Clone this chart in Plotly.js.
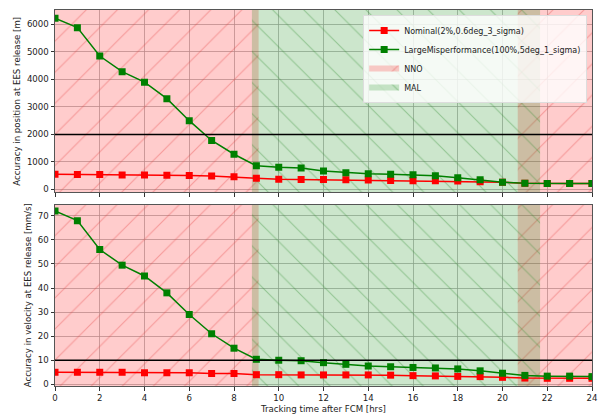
<!DOCTYPE html>
<html>
<head>
<meta charset="utf-8">
<script src="https://cdn.plot.ly/plotly-3.0.1.min.js"></script>
<style>html,body{margin:0;padding:0;background:#fff;}#chart{width:600px;height:414px;}</style>
</head>
<body>
<div id="chart"></div>
<script>
// ---- data ----
const hours = [0,1,2,3,4,5,6,7,8,9,10,11,12,13,14,15,16,17,18,19,20,21,22,23,24];
const posNominal = [550,545,545,530,525,520,505,485,460,410,375,365,360,350,340,330,318,315,305,285,265,230,215,215,215];
const posLarge   = [6220,5880,4850,4280,3900,3300,2500,1780,1280,860,805,780,670,610,570,555,535,500,430,355,265,230,215,215,215];
const velNominal = [5.0,5.0,5.0,5.0,4.8,4.8,4.8,4.5,4.5,4.0,4.0,3.9,3.9,3.9,3.9,3.8,3.6,3.5,3.3,3.2,2.9,2.6,2.5,2.5,2.5];
const velLarge   = [72,68,56,49.5,45,38,29,21,15,10.4,10,9.8,9.0,8.3,7.6,7.3,7.0,6.8,6.4,5.6,4.6,3.7,3.4,3.4,3.2];
const nnoIntervals = [[0, 9.1], [20.68, 24]];
const malIntervals = [[8.8, 21.68]];
const posThreshold = 2000;
const velThreshold = 10;
const seriesNames = ['Nominal(2%,0.6deg_3_sigma)', 'LargeMisperformance(100%,5deg_1_sigma)', 'NNO', 'MAL'];
const xTitle = 'Tracking time after FCM [hrs]';
const yTitlePos = 'Accuracy in position at EES release [m]';
const yTitleVel = 'Accuracy in velocity at EES release [mm/s]';
const posRange = [-109, 6521];
const velRange = [-0.7, 74.7];

// ---- build ----
const FONT = 'DejaVu Sans';
const FS = 8.6;
function regionTrace(intervals, yr, xa, ya, name, fill, line, shape, show, rank) {
  const x = [], y = [];
  intervals.forEach(([a, b], i) => {
    if (i > 0) { x.push(null); y.push(null); }
    x.push(a, b, b, a, a);
    y.push(yr[0], yr[0], yr[1], yr[1], yr[0]);
  });
  return {
    type: 'scatter', mode: 'none', x, y, xaxis: xa, yaxis: ya,
    fill: 'toself', fillcolor: fill, name, showlegend: show, legendrank: rank,
    fillpattern: {shape: shape, fgcolor: line, bgcolor: fill, size: 22, solidity: 0.05, fillmode: 'replace'},
    hoverinfo: 'skip'
  };
}
const NNO_FILL = 'rgba(255,0,0,0.2)', NNO_LINE = 'rgba(230,60,60,0.35)';
const MAL_FILL = 'rgba(0,128,0,0.2)', MAL_LINE = 'rgba(40,140,40,0.35)';

function seriesTrace(y, xa, ya, name, color, show, rank) {
  return {
    type: 'scatter', mode: 'lines+markers', x: hours, y, xaxis: xa, yaxis: ya,
    name, showlegend: show, legendrank: rank,
    line: {color, width: 1.5},
    marker: {symbol: 'square', size: 7, color}
  };
}

const traces = [
  regionTrace(nnoIntervals, posRange, 'x', 'y', seriesNames[2], NNO_FILL, NNO_LINE, '/', true, 3),
  regionTrace(malIntervals, posRange, 'x', 'y', seriesNames[3], MAL_FILL, MAL_LINE, '\\', true, 4),
  regionTrace(nnoIntervals, velRange, 'x2', 'y2', seriesNames[2], NNO_FILL, NNO_LINE, '/', false, 3),
  regionTrace(malIntervals, velRange, 'x2', 'y2', seriesNames[3], MAL_FILL, MAL_LINE, '\\', false, 4),
  seriesTrace(posNominal, 'x', 'y', seriesNames[0], '#ff0000', true, 1),
  seriesTrace(posLarge, 'x', 'y', seriesNames[1], '#008000', true, 2),
  seriesTrace(velNominal, 'x2', 'y2', seriesNames[0], '#ff0000', false, 1),
  seriesTrace(velLarge, 'x2', 'y2', seriesNames[1], '#008000', false, 2)
];

const axisCommon = {
  showline: true, linecolor: '#555', linewidth: 1, mirror: true,
  ticks: 'outside', ticklen: 3.5, tickcolor: '#333',
  showgrid: true, gridcolor: 'rgba(170,170,170,0.75)', gridwidth: 1,
  zeroline: false, tickfont: {family: FONT, size: FS, color: '#222'}
};

const layout = {
  width: 600, height: 414,
  margin: {l: 55, r: 8, t: 10, b: 28},
  paper_bgcolor: '#fff', plot_bgcolor: '#fff',
  font: {family: FONT, size: FS, color: '#222'},
  showlegend: true,
  legend: {x: 0.991, y: 0.987, xanchor: 'right', yanchor: 'top',
    bgcolor: 'rgba(255,255,255,0.8)', bordercolor: '#ddd', borderwidth: 1,
    itemwidth: 30, font: {family: FONT, size: 8.0, color: '#222'}, tracegroupgap: 0},
  xaxis: Object.assign({}, axisCommon, {domain: [0, 1], range: [0, 24], dtick: 2, anchor: 'y', showticklabels: false, matches: 'x2'}),
  yaxis: Object.assign({}, axisCommon, {domain: [0.5147, 1], range: posRange, dtick: 1000, anchor: 'x', automargin: true,
    title: {text: yTitlePos, font: {family: FONT, size: FS, color: '#222'}, standoff: 4}}),
  xaxis2: Object.assign({}, axisCommon, {domain: [0, 1], range: [0, 24], dtick: 2, anchor: 'y2',
    title: {text: xTitle, font: {family: FONT, size: FS, color: '#222'}, standoff: 4}}),
  yaxis2: Object.assign({}, axisCommon, {domain: [0, 0.4827], range: velRange, dtick: 10, anchor: 'x2', automargin: true,
    title: {text: yTitleVel, font: {family: FONT, size: FS, color: '#222'}, standoff: 4}}),
  shapes: [
    {type: 'line', xref: 'x domain', yref: 'y', x0: 0, x1: 1, y0: posThreshold, y1: posThreshold, line: {color: '#000', width: 1.5}, layer: 'above'},
    {type: 'line', xref: 'x2 domain', yref: 'y2', x0: 0, x1: 1, y0: velThreshold, y1: velThreshold, line: {color: '#000', width: 1.5}, layer: 'above'}
  ]
};

Plotly.newPlot('chart', traces, layout, {staticPlot: true, displayModeBar: false});
</script>
</body>
</html>
